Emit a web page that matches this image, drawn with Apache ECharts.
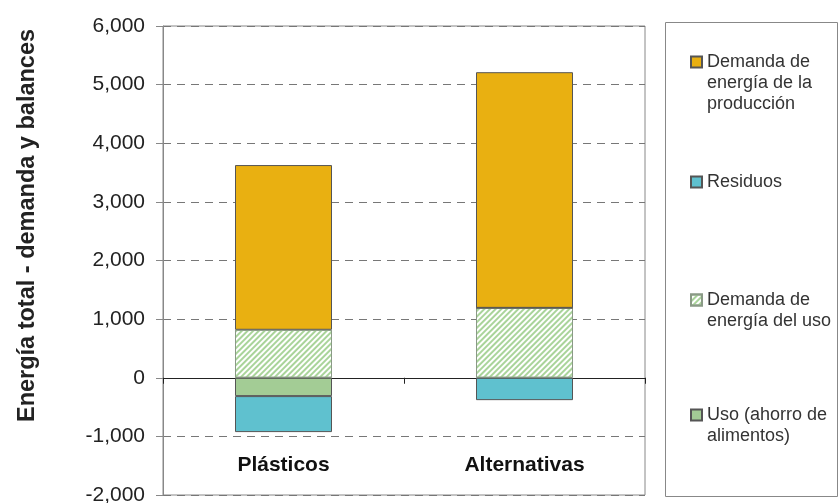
<!DOCTYPE html>
<html>
<head>
<meta charset="utf-8">
<script src="https://cdn.jsdelivr.net/npm/echarts@6/dist/echarts.min.js"></script>
<style>
  html, body { margin: 0; padding: 0; background: #fff; }
  #main { width: 840px; height: 503px; }
</style>
</head>
<body>
<div id="main"></div>
<script>
var categories = ['Plásticos', 'Alternativas'];
var demandaUso = [818, 1192];
var demandaProduccion = [2810, 4020];
var usoAhorro = [-313, 0];
var residuos = [-614, -382];

var seriesNames = ['Demanda de energía de la producción', 'Residuos', 'Demanda de energía del uso', 'Uso (ahorro de alimentos)'];
var legendLines = [
    ['Demanda de', 'energía de la', 'producción'],
    ['Residuos'],
    ['Demanda de', 'energía del uso'],
    ['Uso (ahorro de', 'alimentos)']
];
var legendFirstLineY = [62, 182, 300, 415];

var fontName = 'Liberation Sans, Arial, sans-serif';
var lineH = 21;

// one legend per item, so the icon can sit on the first text line
var legends = [];
for (var i = 0; i < seriesNames.length; i++) {
    (function (k) {
        var n = legendLines[k].length;
        var pad = [];
        for (var j = 1; j < n; j++) pad.push('');
        var text = pad.concat(legendLines[k]).join('\n');
        var boxH = (2 * n - 1) * lineH;
        legends.push({
            data: [{ name: seriesNames[k], icon: 'rect' }],
            left: 690,
            top: legendFirstLineY[k] - boxH / 2,
            orient: 'vertical',
            padding: 0,
            itemWidth: 11,
            itemHeight: 11,
            selectedMode: false,
            formatter: function () { return text; },
            textStyle: {
                fontFamily: fontName,
                fontSize: 18,
                color: '#333',
                lineHeight: lineH
            }
        });
    })(i);
}

var barBorder = { borderColor: '#555', borderWidth: 1 };

var myChart = echarts.init(document.getElementById('main'));
myChart.setOption({
    animation: false,
    legend: legends,
    grid: {
        left: 163,
        right: 195,
        top: 26,
        bottom: 8,
        containLabel: false,
        outerBoundsMode: 'none',
        show: true,
        borderColor: '#888',
        borderWidth: 1
    },
    graphic: [{
        type: 'rect',
        shape: { x: 665.5, y: 22.5, width: 172, height: 474 },
        style: { fill: 'none', stroke: '#888', lineWidth: 1 }
    }],
    xAxis: {
        type: 'category',
        data: categories,
        axisLine: { onZero: true, lineStyle: { color: '#222', width: 1 } },
        axisTick: { show: true, length: 6, lineStyle: { color: '#222' } },
        axisLabel: {
            margin: -40,
            fontFamily: fontName,
            fontSize: 21,
            fontWeight: 'bold',
            color: '#111'
        }
    },
    yAxis: {
        type: 'value',
        min: -2000,
        max: 6000,
        interval: 1000,
        name: 'Energía total - demanda y balances',
        nameLocation: 'middle',
        nameGap: 123,
        nameTextStyle: {
            fontFamily: fontName,
            fontSize: 23.5,
            fontWeight: 'bold',
            color: '#222',
            padding: [0, 0, 0, 70]
        },
        axisLine: { show: true, lineStyle: { color: '#888' } },
        axisTick: { show: true, length: 7, lineStyle: { color: '#888' } },
        axisLabel: {
            margin: 18,
            fontFamily: fontName,
            fontSize: 21,
            color: '#222',
            formatter: function (v) { return echarts.format.addCommas(v); }
        },
        splitLine: {
            show: true,
            lineStyle: { color: '#777', type: [8, 6], width: 1 }
        }
    },
    series: [{
        name: seriesNames[2],
        type: 'bar',
        stack: 'total',
        barWidth: 97,
        data: demandaUso,
        itemStyle: {
            color: '#ffffff',
            borderColor: '#8a9a86',
            borderWidth: 1,
            decal: {
                symbol: 'rect',
                dashArrayX: [1, 0],
                dashArrayY: [2, 1.6],
                rotation: -Math.PI / 4,
                color: '#a9d49a'
            }
        }
    }, {
        name: seriesNames[3],
        type: 'bar',
        stack: 'total',
        barWidth: 97,
        data: usoAhorro,
        itemStyle: Object.assign({ color: '#a3cc95' }, barBorder)
    }, {
        name: seriesNames[0],
        type: 'bar',
        stack: 'total',
        barWidth: 97,
        data: demandaProduccion,
        itemStyle: Object.assign({ color: '#e9b011' }, barBorder)
    }, {
        name: seriesNames[1],
        type: 'bar',
        stack: 'total',
        barWidth: 97,
        data: residuos,
        itemStyle: Object.assign({ color: '#5fc1cf' }, barBorder)
    }]
});
</script>
</body>
</html>
